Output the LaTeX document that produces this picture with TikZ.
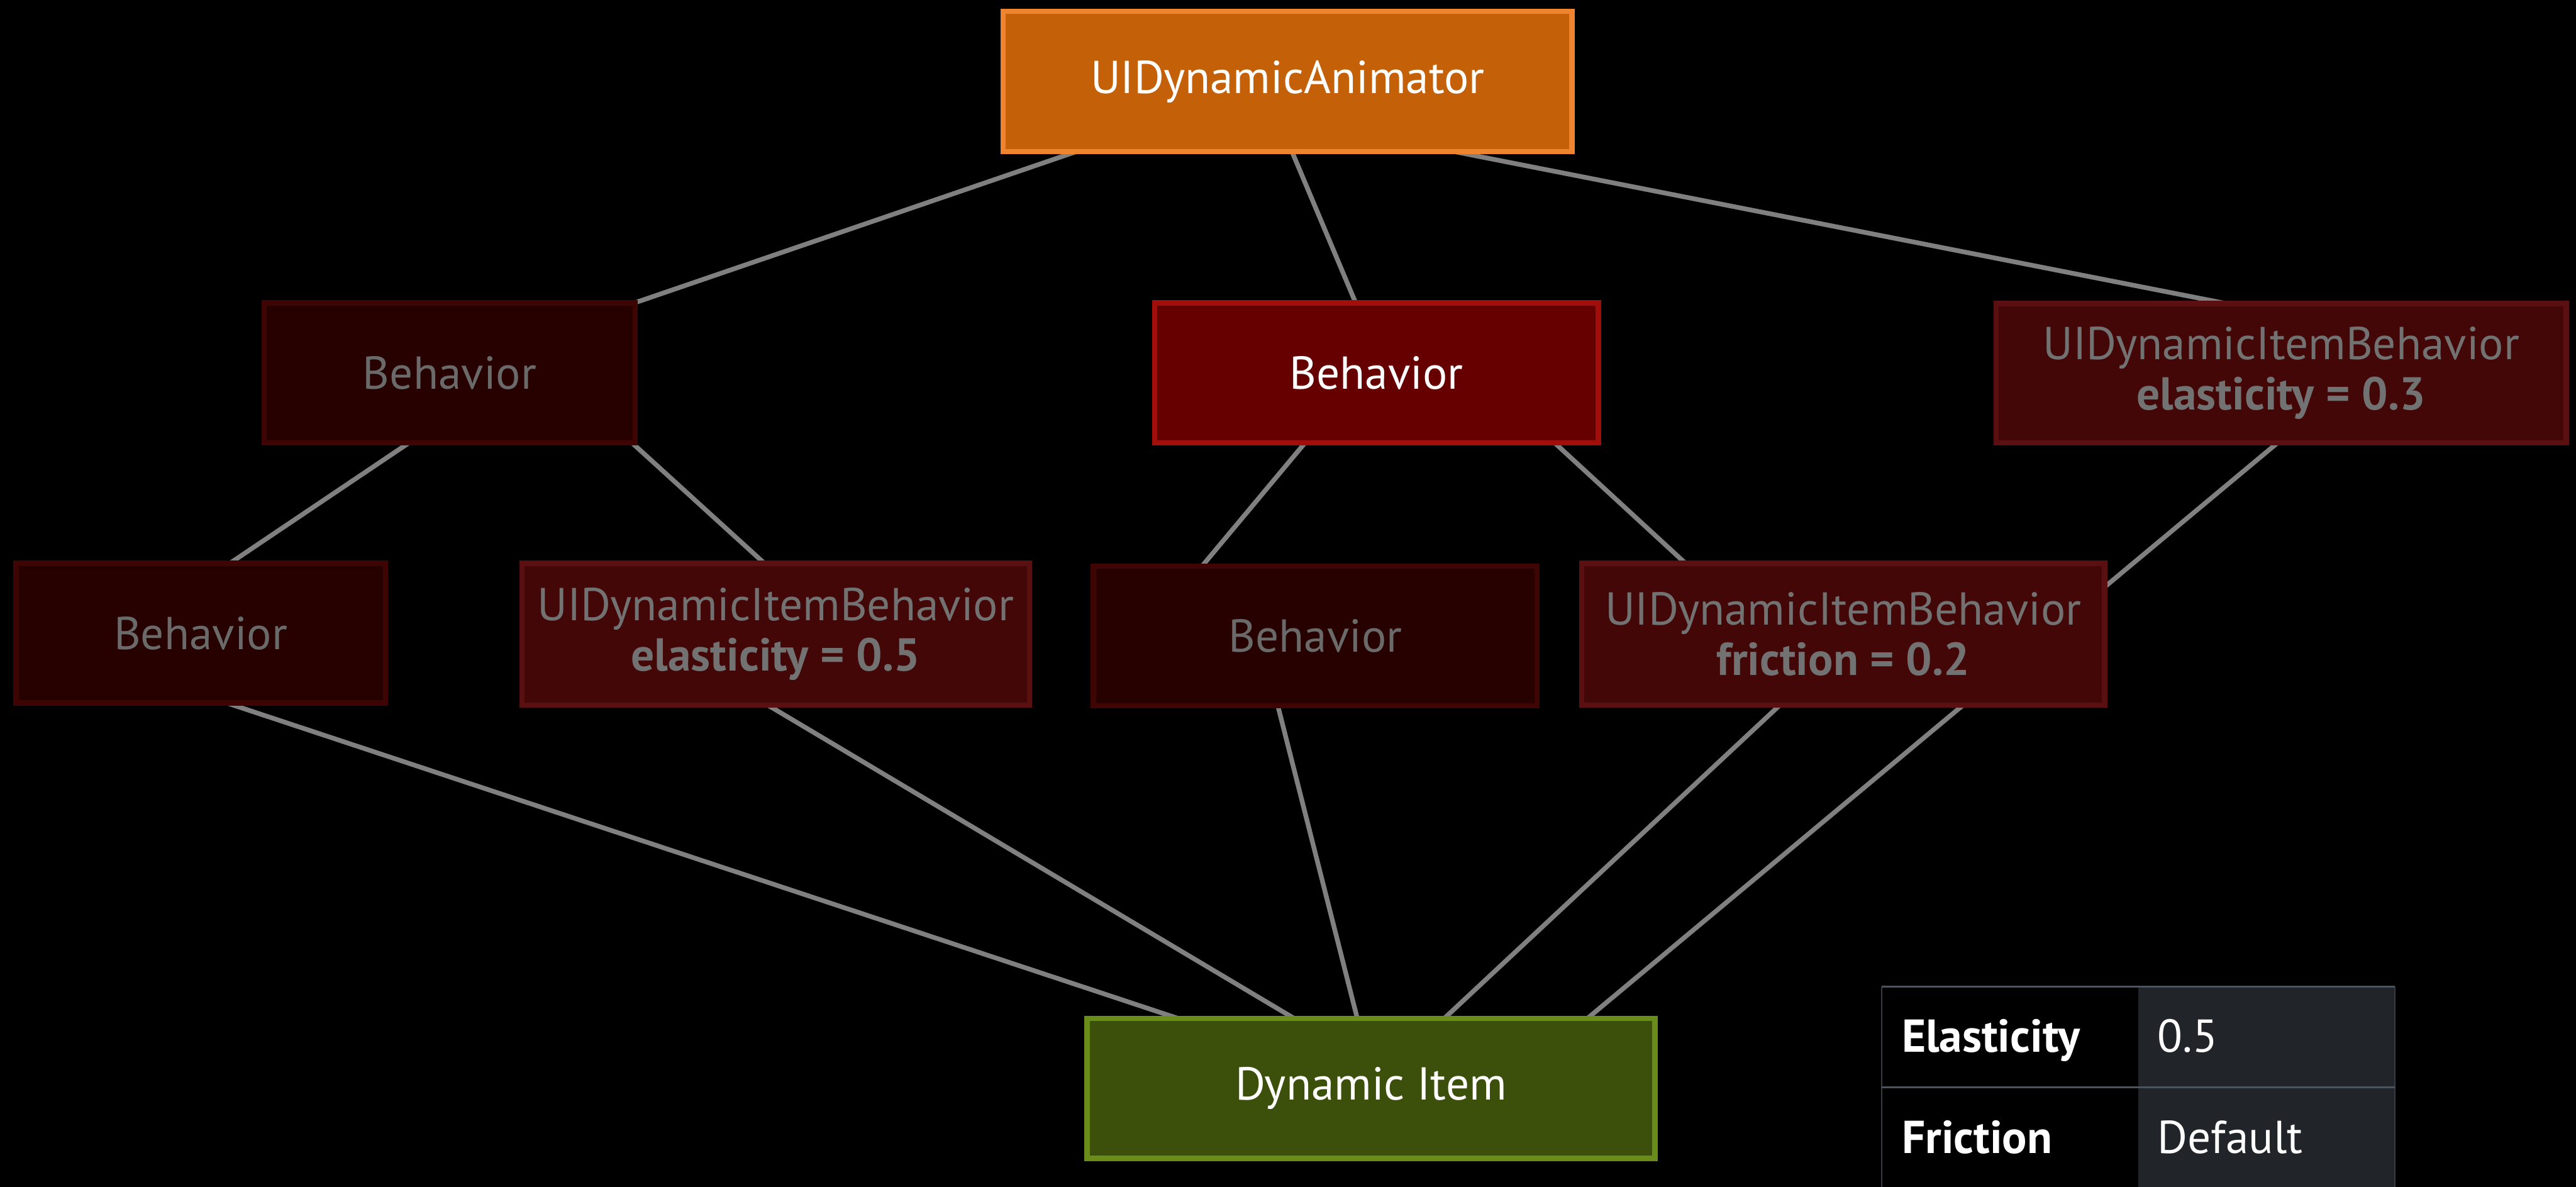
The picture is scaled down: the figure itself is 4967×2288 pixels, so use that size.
\documentclass[tikz,border=0pt]{standalone}
\usepackage{fontspec}
\setmainfont{PT Sans}
\usetikzlibrary{calc,backgrounds}

\definecolor{animfill}{HTML}{C46008}
\definecolor{animedge}{HTML}{EE8430}
\definecolor{hotfill}{HTML}{660000}
\definecolor{hotedge}{HTML}{A20E0A}
\definecolor{dimfill}{HTML}{270000}
\definecolor{dimedge}{HTML}{3F0404}
\definecolor{idbfill}{HTML}{430707}
\definecolor{idbedge}{HTML}{5A1010}
\definecolor{itemfill}{HTML}{3C500C}
\definecolor{itemedge}{HTML}{6A8C1A}
\definecolor{dimtext}{HTML}{6A6A6A}
\definecolor{idbtext}{HTML}{727272}
\definecolor{wire}{HTML}{808080}
\definecolor{tabcell}{HTML}{212529}
\definecolor{tabrule}{HTML}{4A5460}
\definecolor{tabside}{HTML}{343B42}

\newcommand{\boxfont}{\fontsize{8.9pt}{9.7pt}\selectfont}

\tikzset{
  box/.style={rectangle, line width=1pt, inner sep=0pt, outer sep=0pt,
              align=center, font=\boxfont},
  boxsize/.style 2 args={minimum width=#1, minimum height=#2},
  animbox/.style={box, fill=animfill, draw=animedge, text=white},
  hotbox/.style={box, fill=hotfill, draw=hotedge, text=white},
  dimbox/.style={box, fill=dimfill, draw=dimedge, text=dimtext},
  idbbox/.style={box, fill=idbfill, draw=idbedge, text=idbtext},
  itembox/.style={box, fill=itemfill, draw=itemedge, text=white},
  wireline/.style={draw=wire, line width=0.9pt},
  celltext/.style={anchor=base west, inner sep=0pt, text=white, font=\boxfont},
}

\begin{document}
\begin{tikzpicture}[x=0.1pt, y=-0.1pt]
  \useasboundingbox (0,0) rectangle (4967,2288);

  % object graph
  \node[animbox, boxsize={109.7pt}{27pt}] (anim) at (2482.5,157) {UIDynamicAnimator};

  \node[dimbox, boxsize={71.6pt}{27pt}]  (behA) at (867,719)    {Behavior};
  \node[hotbox, boxsize={85.6pt}{27pt}]  (behB) at (2654,719)   {Behavior};
  \node[idbbox, boxsize={109.9pt}{26.9pt}] (idbC) at (4398.5,719.5)
        {UIDynamicItemBehavior\\\textbf{elasticity = 0.3}};

  \node[dimbox, boxsize={71.2pt}{26.9pt}] (behD) at (387,1220.5)  {Behavior};
  \node[idbbox, boxsize={97.9pt}{27.3pt}] (idbE) at (1495.5,1222.5)
        {UIDynamicItemBehavior\\\textbf{elasticity = 0.5}};
  \node[dimbox, boxsize={85.6pt}{27pt}]  (behF) at (2536,1226)   {Behavior};
  \node[idbbox, boxsize={100.8pt}{27.3pt}] (idbG) at (3554,1222.5)
        {UIDynamicItemBehavior\\\textbf{friction = 0.2}};

  \node[itembox, boxsize={109.5pt}{27pt}] (item) at (2643.5,2098) {Dynamic Item};

  % canvas and connectors, kept behind the boxes
  \begin{scope}[on background layer]
    \fill[black] (0,0) rectangle (4967,2288);

    \draw[wireline] ($(anim.south)+(-406.5,0)$) -- ($(behA.north)+(356,0)$);
    \draw[wireline] ($(anim.south)+(8.5,0)$)    -- ($(behB.north)+(-40,0)$);
    \draw[wireline] ($(anim.south)+(320.5,0)$)  -- ($(idbC.north)+(-106.5,0)$);

    \draw[wireline] ($(behA.south)+(-79,0)$)  -- ($(behD.north)+(56,0)$);
    \draw[wireline] ($(behA.south)+(352,0)$)  -- ($(idbE.north)+(-21.5,0)$);
    \draw[wireline] ($(behB.south)+(-138,0)$) -- ($(behF.north)+(-218,0)$);
    \draw[wireline] ($(behB.south)+(344,0)$)  -- ($(idbG.north)+(-304,0)$);
    \draw[wireline] ($(idbC.south)+(-7.5,0)$) -- ($(item.north)+(417.5,0)$);

    \draw[wireline] ($(behD.south)+(50,0)$)    -- ($(item.north)+(-372.5,0)$);
    \draw[wireline] ($(idbE.south)+(-15.5,0)$) -- ($(item.north)+(-148.5,0)$);
    \draw[wireline] ($(behF.south)+(-72,0)$)   -- ($(item.north)+(-26.5,0)$);
    \draw[wireline] ($(idbG.south)+(-122,0)$)  -- ($(item.north)+(141.5,0)$);
  \end{scope}

  % property table
  \fill[tabcell] (4123,1902) rectangle (4618,2300);
  \draw[tabside, line width=0.2pt] (3628,2300) -- (3628,1902);
  \draw[tabside, line width=0.2pt] (4618,1902) -- (4618,2300);
  \draw[tabrule, line width=0.3pt] (3628,1902) -- (4618,1902);
  \draw[tabrule, line width=0.4pt] (3628,2096) -- (4618,2096);

  \node[celltext] (kElast) at (3665,2028) {\bfseries Elasticity};
  \node[celltext] (vElast) at (4158,2028) {0.5};
  \node[celltext] (kFric)  at (3665,2223) {\bfseries Friction};
  \node[celltext] (vFric)  at (4158,2223) {Default};
\end{tikzpicture}
\end{document}
